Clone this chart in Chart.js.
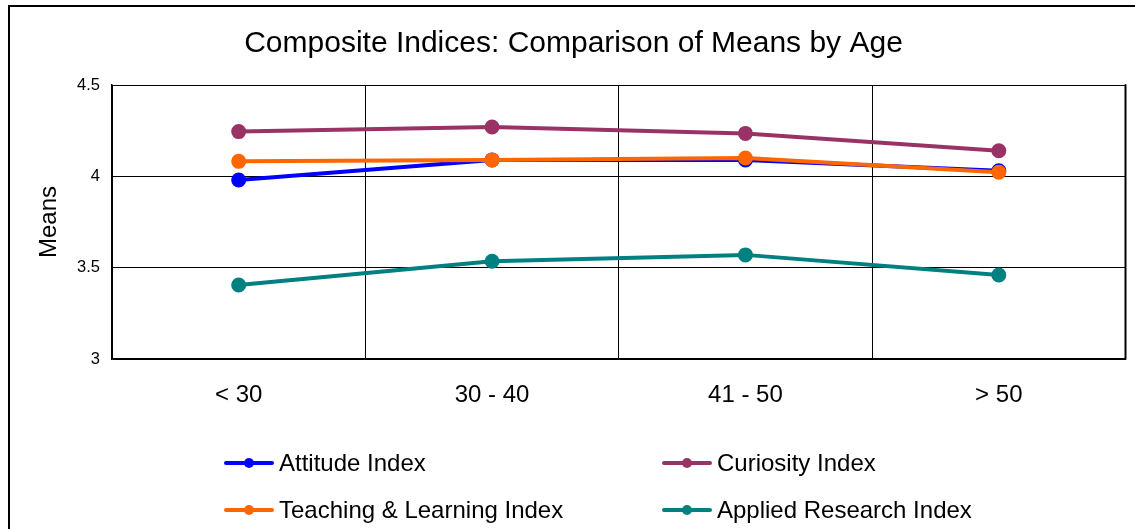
<!DOCTYPE html>
<html>
<head>
<meta charset="utf-8">
<title>Composite Indices: Comparison of Means by Age</title>
<script src="https://cdn.jsdelivr.net/npm/chart.js@4/dist/chart.umd.min.js"></script>
<style>
  html, body { margin: 0; padding: 0; background: #fff; }
  #wrap { width: 1135px; height: 529px; position: relative; }
</style>
</head>
<body>
<div id="wrap"><canvas id="c" width="1135" height="529"></canvas></div>
<script>
// Age groups and mean scores per composite index
const ageGroups = ['< 30', '30 - 40', '41 - 50', '> 50'];
const attitudeIndex = [3.98, 4.09, 4.09, 4.03];
const curiosityIndex = [4.245, 4.27, 4.235, 4.14];
const teachingLearningIndex = [4.082, 4.09, 4.10, 4.022];
const appliedResearchIndex = [3.405, 3.535, 3.57, 3.46];
const seriesNames = ['Attitude Index', 'Curiosity Index', 'Teaching & Learning Index', 'Applied Research Index'];
const seriesColors = ['#0000ff', '#993366', '#ff6600', '#008080'];
const yTicks = [3, 3.5, 4, 4.5];

const FONT = "'Liberation Sans', Arial, sans-serif";

function makeSeries(i, values, order) {
  return {
    label: seriesNames[i],
    data: values,
    borderColor: seriesColors[i],
    backgroundColor: seriesColors[i],
    pointBackgroundColor: seriesColors[i],
    pointBorderColor: seriesColors[i],
    borderWidth: 4,
    pointRadius: 5.5,
    pointHoverRadius: 5.5,
    tension: 0,
    order: order
  };
}

// Outer frame and two-column legend drawn on the canvas
const decorations = {
  id: 'decorations',
  beforeDraw(chart) {
    const ctx = chart.ctx;
    ctx.save();
    ctx.strokeStyle = '#000';
    ctx.lineWidth = 2;
    ctx.beginPath();
    ctx.moveTo(9, 540);
    ctx.lineTo(9, 6);
    ctx.lineTo(1145, 6);
    ctx.stroke();
    ctx.restore();
  },
  afterDraw(chart) {
    const ctx = chart.ctx;
    const cols = [226, 664];
    const rows = [463, 510];
    ctx.save();
    chart.data.datasets.forEach((ds, i) => {
      const x = cols[i % 2];
      const y = rows[Math.floor(i / 2)];
      ctx.strokeStyle = ds.borderColor;
      ctx.lineWidth = 4;
      ctx.lineCap = 'round';
      ctx.beginPath();
      ctx.moveTo(x, y);
      ctx.lineTo(x + 46, y);
      ctx.stroke();
      ctx.fillStyle = ds.borderColor;
      ctx.beginPath();
      ctx.arc(x + 23, y, 5, 0, Math.PI * 2);
      ctx.fill();
      ctx.fillStyle = '#000';
      ctx.font = '24px ' + FONT;
      ctx.textBaseline = 'middle';
      ctx.textAlign = 'left';
      ctx.fillText(ds.label, x + 53, y + 1);
    });
    // right border of the plot area, slightly heavier
    const a = chart.chartArea;
    ctx.strokeStyle = '#000';
    ctx.lineWidth = 2;
    ctx.beginPath();
    ctx.moveTo(a.right, a.top);
    ctx.lineTo(a.right, a.bottom);
    ctx.stroke();
    ctx.restore();
  }
};

new Chart(document.getElementById('c'), {
  type: 'line',
  data: {
    labels: ageGroups,
    datasets: [
      makeSeries(0, attitudeIndex, 1),
      makeSeries(1, curiosityIndex, 2),
      makeSeries(2, teachingLearningIndex, 0),
      makeSeries(3, appliedResearchIndex, 3)
    ]
  },
  options: {
    responsive: false,
    animation: false,
    devicePixelRatio: 1,
    layout: { padding: { left: 17, right: 5, top: 0, bottom: 0 } },
    plugins: {
      legend: { display: false },
      tooltip: { enabled: false },
      title: {
        display: true,
        text: 'Composite Indices: Comparison of Means by Age',
        color: '#000',
        font: { family: FONT, size: 30, weight: 'normal', lineHeight: 1.2 },
        padding: { top: 26, bottom: 23 }
      }
    },
    scales: {
      x: {
        offset: true,
        grid: { display: true, offset: true, color: '#000', lineWidth: 1, drawTicks: false },
        border: { display: true, color: '#000', width: 1.5 },
        ticks: { color: '#000', font: { family: FONT, size: 24 }, padding: 22, maxRotation: 0 },
        afterFit(scale) { scale.height = 170; }
      },
      y: {
        min: 3,
        max: 4.5,
        afterBuildTicks(scale) { scale.ticks = yTicks.map(v => ({ value: v })); },
        grid: { color: '#000', lineWidth: 1, drawTicks: false },
        border: { display: true, color: '#000', width: 1.5 },
        ticks: { color: '#000', font: { family: FONT, size: 16.5 }, padding: 12, callback: v => String(v) },
        title: {
          display: true,
          text: 'Means',
          color: '#000',
          font: { family: FONT, size: 24 },
          padding: { top: 18, bottom: 0 }
        },
        afterFit(scale) { scale.width = 95; }
      }
    }
  },
  plugins: [decorations]
});
</script>
</body>
</html>
